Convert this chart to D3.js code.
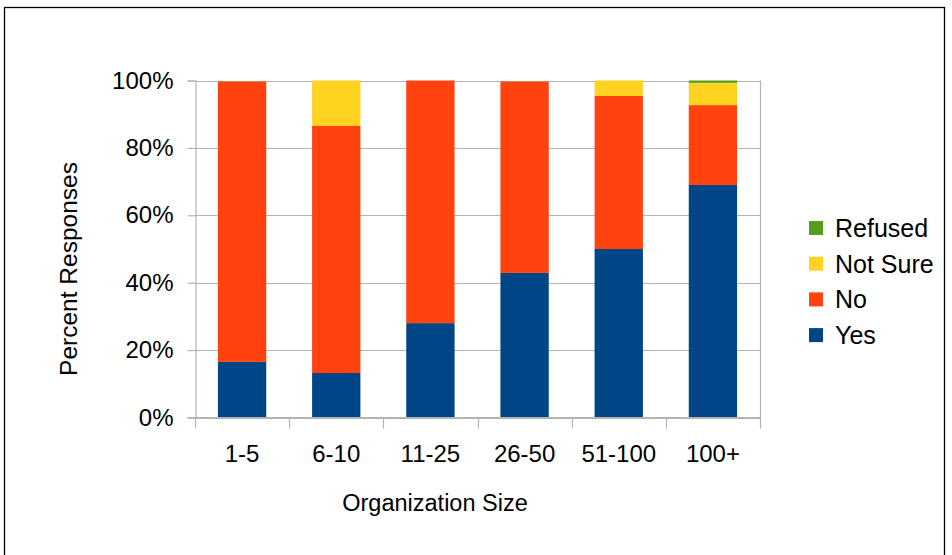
<!DOCTYPE html>
<html>
<head>
<meta charset="utf-8">
<script src="https://cdn.jsdelivr.net/npm/d3@7/dist/d3.min.js"></script>
<style>
  html, body { margin: 0; padding: 0; background: #fff; }
  svg { display: block; }
  text { font-family: "Liberation Sans", Arial, sans-serif; fill: #000; }
</style>
</head>
<body>
<svg id="chart" width="952" height="555"></svg>
<script>
// Organization size buckets and response shares (percent of responses)
const categories = ["1-5", "6-10", "11-25", "26-50", "51-100", "100+"];
const yesValues      = [16.5, 13.2, 28.0, 42.9, 50.0, 69.0];
const noValues       = [83.2, 73.3, 72.0, 56.8, 45.4, 23.7];
const notSureValues  = [0.0, 13.5, 0.0, 0.0, 4.6, 6.6];
const refusedValues  = [0.0, 0.0, 0.0, 0.0, 0.0, 0.7];
const seriesNames = ["Yes", "No", "Not Sure", "Refused"];
const yTicks = [0, 20, 40, 60, 80, 100];

const colors = {
  "Yes": "#004586",
  "No": "#ff420e",
  "Not Sure": "#ffd320",
  "Refused": "#579d1c"
};

const rows = categories.map((c, i) => ({
  category: c,
  "Yes": yesValues[i],
  "No": noValues[i],
  "Not Sure": notSureValues[i],
  "Refused": refusedValues[i]
}));

const svg = d3.select("#chart");
const plot = { left: 195, right: 760, top: 80.5, bottom: 417.5 };

// outer frame
svg.append("rect")
  .attr("x", 4.5).attr("y", 7.5)
  .attr("width", 940).attr("height", 560)
  .attr("fill", "none").attr("stroke", "#000").attr("stroke-width", 1.3);

const x = d3.scaleBand().domain(categories)
  .range([plot.left, plot.right]).paddingInner(0.487).paddingOuter(0.2435);
const xBand = d3.scaleBand().domain(categories).range([plot.left, plot.right]);
const y = d3.scaleLinear().domain([0, 100]).range([plot.bottom, plot.top]);

// horizontal gridlines
svg.append("g").selectAll("line").data(yTicks).join("line")
  .attr("x1", plot.left).attr("x2", plot.right)
  .attr("y1", d => Math.round(y(d)) + 0.5).attr("y2", d => Math.round(y(d)) + 0.5)
  .attr("stroke", "#b3b3b3").attr("stroke-width", 1.2);

// stacked bars
const stack = d3.stack().keys(seriesNames);
const layers = stack(rows);
svg.append("g").selectAll("g").data(layers).join("g")
  .attr("fill", d => colors[d.key])
  .selectAll("rect").data(d => d).join("rect")
  .attr("x", d => x(d.data.category))
  .attr("width", x.bandwidth())
  .attr("y", d => y(d[1]))
  .attr("height", d => Math.max(0, y(d[0]) - y(d[1])));

// y axis
const yAxis = d3.axisLeft(y).tickValues(yTicks).tickFormat(d => d + "%")
  .tickSize(8).tickPadding(14);
const gy = svg.append("g").attr("transform", `translate(${plot.left + 0.5},0)`).call(yAxis);
gy.select(".domain").attr("stroke", "#b3b3b3").attr("stroke-width", 1.2);
gy.selectAll(".tick line").attr("stroke", "#b3b3b3").attr("stroke-width", 1.2);
gy.selectAll(".tick text").style("font-size", "24px")
  .attr("font-family", "Liberation Sans, Arial, sans-serif");

// right border of plot area
svg.append("line")
  .attr("x1", plot.right + 0.5).attr("x2", plot.right + 0.5)
  .attr("y1", plot.top).attr("y2", plot.bottom + 11)
  .attr("stroke", "#b3b3b3").attr("stroke-width", 1.2);

// x axis: baseline with separators between categories
svg.append("line")
  .attr("x1", plot.left - 8).attr("x2", plot.right)
  .attr("y1", plot.bottom).attr("y2", plot.bottom)
  .attr("stroke", "#b3b3b3").attr("stroke-width", 1.2);
svg.append("g").selectAll("line").data(categories).join("line")
  .attr("x1", d => Math.round(xBand(d)) + 0.5).attr("x2", d => Math.round(xBand(d)) + 0.5)
  .attr("y1", plot.bottom).attr("y2", plot.bottom + 11)
  .attr("stroke", "#b3b3b3").attr("stroke-width", 1.2);
svg.append("g").selectAll("text").data(categories).join("text")
  .attr("x", d => xBand(d) + xBand.bandwidth() / 2)
  .attr("y", 462)
  .attr("text-anchor", "middle")
  .style("font-size", "24px")
  .text(d => d);

// axis titles
svg.append("text")
  .attr("x", 435).attr("y", 511)
  .attr("text-anchor", "middle")
  .style("font-size", "23.5px")
  .text("Organization Size");
svg.append("text")
  .attr("transform", "translate(77,269) rotate(-90)")
  .attr("text-anchor", "middle")
  .style("font-size", "24.5px")
  .text("Percent Responses");

// legend (top-down: last series first)
const legendItems = seriesNames.slice().reverse();
const lg = svg.append("g").selectAll("g").data(legendItems).join("g")
  .attr("transform", (d, i) => `translate(809,${228 + i * 35.7})`);
lg.append("rect").attr("x", 0).attr("y", -7).attr("width", 14).attr("height", 14)
  .attr("fill", d => colors[d]);
lg.append("text").attr("x", 26).attr("y", 9).style("font-size", "25px").text(d => d);
</script>
</body>
</html>
